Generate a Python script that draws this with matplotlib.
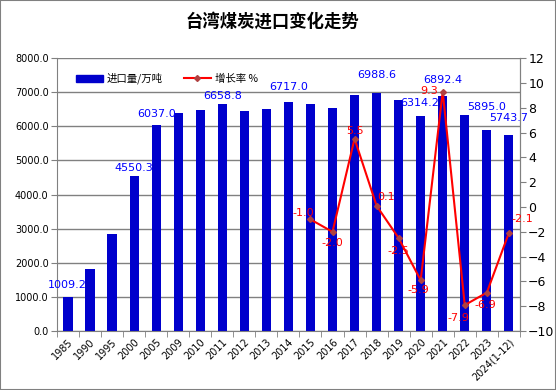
import matplotlib
matplotlib.use("Agg")
import matplotlib.pyplot as plt
import numpy as np
from matplotlib.patches import Rectangle, Patch
from matplotlib.lines import Line2D

plt.rcParams['font.family'] = ['DejaVu Sans', 'Noto Sans CJK SC']

years = ["1985", "1990", "1995", "2000", "2005", "2009", "2010", "2011", "2012", "2013",
         "2014", "2015", "2016", "2017", "2018", "2019", "2020", "2021", "2022", "2023", "2024(1-12)"]
imports = [1009.2, 1820, 2850, 4550.3, 6037.0, 6390, 6480, 6658.8, 6450, 6510,
           6717.0, 6665, 6540, 6925, 6988.6, 6775, 6314.2, 6892.4, 6335, 5895.0, 5743.7]
growth_years = ["2015", "2016", "2017", "2018", "2019", "2020", "2021", "2022", "2023", "2024(1-12)"]
growth = [-1.0, -2.0, 5.5, 0.1, -2.5, -5.9, 9.3, -7.9, -6.9, -2.1]
labeled_bars = ["1985", "2000", "2005", "2011", "2014", "2018", "2020", "2021", "2023", "2024(1-12)"]

# label offsets (pixels) for styling
bar_label_dy = {"1985": 12, "2000": 8, "2005": 11, "2011": 8, "2014": 15,
                "2018": 18, "2020": 13, "2021": 16, "2023": 23, "2024(1-12)": 17}
bar_label_dx = {"1985": -1, "2020": -1}
growth_label_off = [(-7, 6), (0, -11), (0, 8), (9, 9), (0, -13), (-2, -10), (-14, 1),
                    (-6, -13), (-1, -12), (13, 14)]

fig = plt.figure(figsize=(5.56, 3.90), dpi=100)
fig.patches.append(Rectangle((0, 0), 1, 1, transform=fig.transFigure, fill=False,
                             edgecolor='#808080', linewidth=1.5))
ax = fig.add_axes([0.1025, 0.151, 0.8325, 0.70])
x = np.arange(len(years))
blue = '#0000CC'
ax.bar(x, imports, width=0.42, color=blue, zorder=2)
ax.set_xlim(-0.5, len(years) - 0.5)
ax.set_ylim(0, 8000)
ax.set_yticks(np.arange(0, 8001, 1000))
ax.set_yticklabels([f"{v:.1f}" for v in np.arange(0, 8001, 1000)], fontsize=7)
ax.yaxis.grid(True, color='#808080', linewidth=1, zorder=0)
ax.set_axisbelow(True)
ax.set_xticks(x)
ax.set_xticklabels(years, rotation=45, ha='right', rotation_mode='anchor', fontsize=7)
ax.set_xticks(np.arange(-0.5, len(years)), minor=True)
ax.tick_params(axis='x', which='major', length=0, pad=4)
ax.tick_params(axis='x', which='minor', length=4, color='#808080')
ax.tick_params(axis='y', length=4, color='#808080', pad=2)
ax.spines['top'].set_visible(False)
for s in ['left', 'bottom', 'right']:
    ax.spines[s].set_color('#808080')

for yr in labeled_bars:
    i = years.index(yr)
    ax.annotate(f"{imports[i]:.1f}", (i, imports[i]),
                xytext=(bar_label_dx.get(yr, 0), bar_label_dy[yr]),
                textcoords='offset pixels', ha='center', va='center', color='#0000FF', fontsize=8)

ax2 = ax.twinx()
ax2.set_ylim(-10, 12)
ax2.set_yticks(np.arange(-10, 13, 2))
ax2.tick_params(axis='y', labelsize=9, length=4, color='#808080', pad=2)
for s in ['top', 'left', 'bottom']:
    ax2.spines[s].set_visible(False)
ax2.spines['right'].set_color('#808080')
gx = [years.index(g) for g in growth_years]
ax2.plot(gx, growth, color='#FF0000', linewidth=1.5, marker='D', markersize=3,
         markerfacecolor='#B04040', markeredgecolor='#B04040', zorder=3)
for xi, gv, off in zip(gx, growth, growth_label_off):
    ax2.annotate(f"{gv:.1f}", (xi, gv), xytext=off, textcoords='offset pixels',
                 ha='center', va='center', color='#FF0000', fontsize=8)

handles = [Patch(color=blue), Line2D([0], [0], color='#FF0000', linewidth=1.5, marker='D',
                                     markersize=3, markerfacecolor='#B04040', markeredgecolor='#B04040')]
ax.legend(handles, ["进口量/万吨", "增长率 %"], loc='upper left', bbox_to_anchor=(0.02, 0.98),
          ncol=2, frameon=False, prop={'family': ['Noto Sans CJK SC', 'DejaVu Sans'], 'size': 7.5},
          handlelength=2.6, handleheight=0.6, columnspacing=2.0, handletextpad=0.4)

fig.text(0.49, 0.945, "台湾煤炭进口变化走势", ha='center', va='center', fontsize=12.5,
         fontweight='bold', family=['Noto Sans CJK SC'])

fig.savefig("out.png", dpi=100)
